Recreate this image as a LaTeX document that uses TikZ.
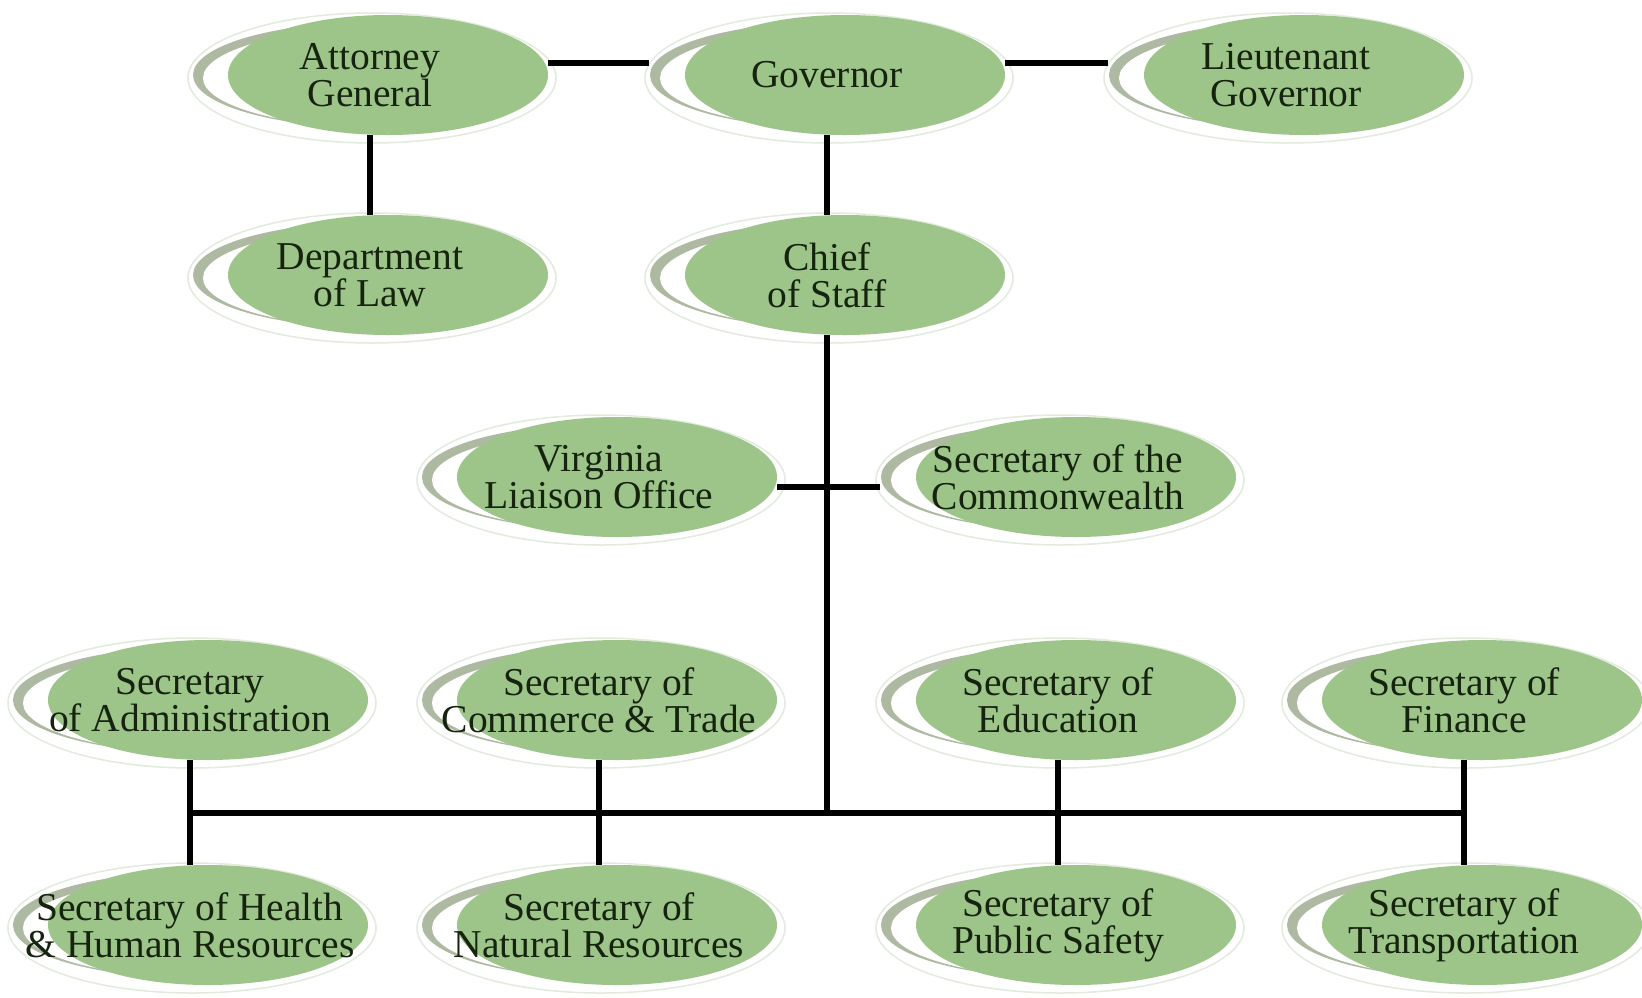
\documentclass[tikz,border=0pt]{standalone}
\usepackage{fontspec}
\setmainfont{Liberation Serif}
\usetikzlibrary{shapes.geometric,calc}
\definecolor{leaf}{HTML}{9DC589}
\definecolor{swooshcol}{HTML}{AEB9A2}
\definecolor{halocol}{HTML}{E2EBDD}
\definecolor{inkcol}{HTML}{15230F}
\tikzset{
  anchorshape/.style={ellipse, minimum width=356pt, minimum height=120pt, inner sep=0pt},
  labeltext/.style={align=center, text=inkcol, font=\fontsize{39.5}{37}\selectfont, inner sep=0pt},
  halo/.style={draw=halocol, line width=1.5pt},
  conn/.style={draw=black, line width=5.5pt}
}
\newcommand\orgnode[4]{%
  \draw[halo] ({#2+2},{#3+3}) ellipse [x radius=184pt, y radius=65pt];
  \begin{scope}
    \clip ({#2-200},{#3-80}) rectangle ({#2-20},{#3+80});
    \fill[swooshcol] ({#2+5},{#3}) ellipse [x radius=182pt, y radius=53pt];
    \fill[white] ({#2+15},{#3+3}) ellipse [x radius=182pt, y radius=50pt];
  \end{scope}
  \fill[leaf] ({#2+18},{#3}) ellipse [x radius=160pt, y radius=60pt];
  \node[anchorshape] (#1) at (#2,#3) {};
  \node[labeltext] (#1-t) at (#2,#3) {#4};
}
\begin{document}
\begin{tikzpicture}[x=1pt,y=-1pt]
\useasboundingbox (0,0) rectangle (1642,997);
\fill[white] (0,0) rectangle (1642,997);
% row 1
\orgnode{ag}{370}{75}{Attorney\\General}
\orgnode{gov}{827}{75}{Governor}
\orgnode{ltg}{1286}{75}{Lieutenant\\Governor}
% row 2
\orgnode{dol}{370}{275}{Department\\of Law}
\orgnode{cos}{827}{275}{Chief\\of Staff}
% row 3
\orgnode{vlo}{599}{477}{Virginia\\Liaison Office}
\orgnode{soc}{1058}{477}{Secretary of the\\Commonwealth}
% row 4
\orgnode{adm}{190}{700}{Secretary\\of Administration}
\orgnode{com}{599}{700}{Secretary of\\Commerce \& Trade}
\orgnode{edu}{1058}{700}{Secretary of\\Education}
\orgnode{fin}{1464}{700}{Secretary of\\Finance}
% row 5
\orgnode{hhr}{190}{925}{Secretary of Health\\\& Human Resources}
\orgnode{nat}{599}{925}{Secretary of\\Natural Resources}
\orgnode{pub}{1058}{925}{Secretary of\\Public Safety}
\orgnode{tra}{1464}{925}{Secretary of\\Transportation}
\coordinate (bus) at (827,813);
% connectors
\draw[conn] ([yshift=12pt]ag.east) -- ([yshift=12pt]gov.west);
\draw[conn] ([yshift=12pt]gov.east) -- ([yshift=12pt]ltg.west);
\draw[conn] (ag.south) -- (dol.north);
\draw[conn] (gov.south) -- (cos.north);
\draw[conn] (cos.south) -- (bus);
\draw[conn] ([yshift=-10pt]vlo.east) -- ([yshift=-10pt]soc.west);
\draw[conn] (adm.south) -- (hhr.north);
\draw[conn] (com.south) -- (nat.north);
\draw[conn] (edu.south) -- (pub.north);
\draw[conn] (fin.south) -- (tra.north);
\draw[conn] (adm.south |- bus) -- (fin.south |- bus);
\end{tikzpicture}
\end{document}
